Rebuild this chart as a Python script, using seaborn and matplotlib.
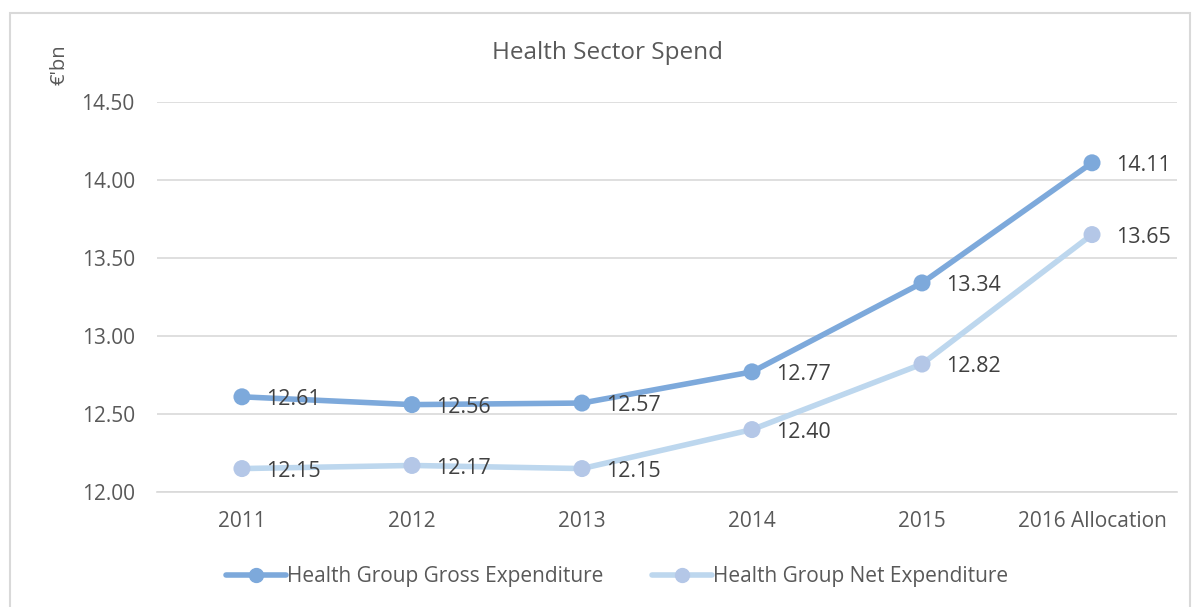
import matplotlib
matplotlib.use("Agg")
import matplotlib.pyplot as plt
import seaborn as sns
import pandas as pd
from matplotlib.patches import Rectangle
from matplotlib.lines import Line2D

years = ["2011", "2012", "2013", "2014", "2015", "2016 Allocation"]
gross = [12.61, 12.56, 12.57, 12.77, 13.34, 14.11]
net = [12.15, 12.17, 12.15, 12.40, 12.82, 13.65]
series_names = ["Health Group Gross Expenditure", "Health Group Net Expenditure"]
yticks = [12.00, 12.50, 13.00, 13.50, 14.00, 14.50]

sns.set_theme(style="white")
plt.rcParams['font.family'] = ['Open Sans', 'DejaVu Sans']
txt = '#595959'

df = pd.DataFrame({
    "year": years * 2,
    "x": list(range(len(years))) * 2,
    "value": gross + net,
    "series": [series_names[0]] * len(years) + [series_names[1]] * len(years),
})

line_colors = {series_names[0]: '#7DA9DB', series_names[1]: '#BDD7EE'}
marker_colors = {series_names[0]: '#7DA9DB', series_names[1]: '#B4C7E7'}

fig = plt.figure(figsize=(11.98, 6.07), dpi=100)
ax = fig.add_axes([0.131, 0.1895, 0.8515, 0.6425])

sns.lineplot(data=df, x="x", y="value", hue="series", palette=line_colors,
             linewidth=4, ax=ax, legend=False, sort=False)
for name in series_names:
    sub = df[df.series == name]
    sns.scatterplot(data=sub, x="x", y="value", color=marker_colors[name], s=150,
                    edgecolor='none', ax=ax, legend=False, zorder=5)
    for xv, yv in zip(sub.x, sub.value):
        ax.annotate(f"{yv:.2f}", (xv, yv), xytext=(17, -2), textcoords='offset points',
                    ha='left', va='center', fontsize=15.5, color='#404040', zorder=6)

ax.set_xlim(-0.5, len(years) - 0.5)
ax.set_ylim(12.0, 14.5)
ax.set_yticks(yticks)
ax.set_yticklabels([f"{t:.2f}" for t in yticks], fontsize=15, color=txt)
ax.set_xticks(range(len(years)))
ax.set_xticklabels(years, fontsize=15, color=txt)
ax.tick_params(axis='y', pad=16, length=0)
ax.tick_params(axis='x', pad=14, length=0)
ax.grid(axis='y', color='#D9D9D9', linewidth=1.2)
ax.set_axisbelow(True)
for s in ['top', 'right', 'left']:
    ax.spines[s].set_visible(False)
ax.spines['bottom'].set_color('#D9D9D9')
ax.spines['bottom'].set_linewidth(1.2)
ax.set_xlabel("")
ax.set_ylabel("")

fig.text(0.507, 0.912, "Health Sector Spend", ha='center', va='center', fontsize=17.5, color=txt)
fig.text(0.050, 0.893, "€'bn", rotation=90, ha='center', va='center', fontsize=14.5, color=txt)

handles = [Line2D([0], [0], color=line_colors[n], lw=4, marker='o', markersize=10,
                  markerfacecolor=marker_colors[n], markeredgecolor=marker_colors[n]) for n in series_names]
fig.legend(handles, series_names, loc='center', bbox_to_anchor=(0.515, 0.05), ncol=2,
           frameon=False, fontsize=15, labelcolor=txt, handlelength=2.9, handletextpad=0.05,
           columnspacing=2.3)

fig.patches.append(Rectangle((10 / 1198, -0.01), 1180 / 1198, 1 - 13 / 607 + 0.01,
                             transform=fig.transFigure, fill=False, edgecolor='#D9D9D9',
                             linewidth=1.5, figure=fig))

fig.savefig("out.png", dpi=100)
